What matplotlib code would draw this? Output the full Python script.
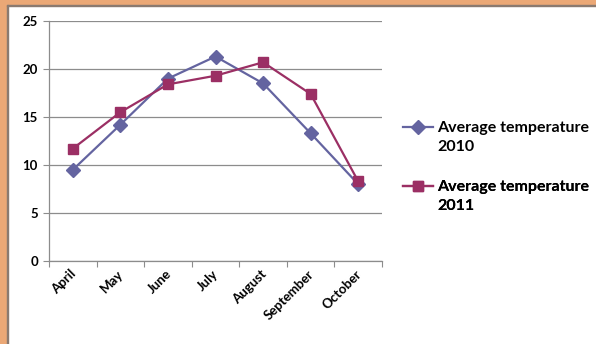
import matplotlib
matplotlib.use("Agg")
import matplotlib.pyplot as plt
from matplotlib.patches import Rectangle
from matplotlib.lines import Line2D
from matplotlib.transforms import offset_copy

months = ["April", "May", "June", "July", "August", "September", "October"]
temp_2010 = [9.5, 14.2, 19.0, 21.3, 18.5, 13.3, 8.0]
temp_2011 = [11.7, 15.5, 18.4, 19.3, 20.7, 17.4, 8.3]
y_ticks = [0, 5, 10, 15, 20, 25]
series_names = ["Average temperature", "Average temperature"]
series_years = ["2010", "2011"]

color_2010 = "#6464A0"
color_2011 = "#9B2F64"
grid_color = "#8C8C8C"

plt.rcParams["font.family"] = ["Lato", "DejaVu Sans"]
plt.rcParams["font.weight"] = "bold"

fig = plt.figure(figsize=(5.96, 3.44), dpi=100)
fig.patch.set_facecolor("white")

# orange frame around the slide panel
W, H = 596, 344
frame = "#EBA876"
fig.add_artist(Rectangle((0, 0), 6.5 / W, 1, transform=fig.transFigure, color=frame, zorder=0))
fig.add_artist(Rectangle((0, 1 - 5 / H), 1, 5 / H, transform=fig.transFigure, color=frame, zorder=0))
fig.add_artist(Rectangle((6.5 / W, 0), 1.3 / W, 1 - 5 / H, transform=fig.transFigure, color="#8A7A70", zorder=1))
fig.add_artist(Rectangle((6.5 / W, 1 - 6.3 / H), 1, 1.3 / H, transform=fig.transFigure, color="#8A7A70", zorder=1))

ax = fig.add_axes([49 / W, 1 - 261 / H, (382 - 49) / W, (261 - 21) / H])
x = list(range(len(months)))

l1, = ax.plot(x, temp_2010, color=color_2010, lw=1.6, marker="D", markersize=6.8, zorder=3)
l2, = ax.plot(x, temp_2011, color=color_2011, lw=1.6, marker="s", markersize=7.8, zorder=3)

ax.set_xlim(-0.5, len(months) - 0.5)
ax.set_ylim(0, 25)
ax.set_yticks(y_ticks)
ax.set_yticklabels([str(v) for v in y_ticks], fontsize=9.5, fontweight="bold")
ax.yaxis.grid(True, color=grid_color, lw=0.9)
ax.set_axisbelow(True)

ax.set_xticks([i - 0.5 for i in range(len(months) + 1)])
ax.set_xticklabels([])
ax.set_xticks(x, minor=True)
ax.set_xticklabels(months, minor=True, rotation=45, ha="right", va="top",
                   rotation_mode="anchor", fontsize=9.5, fontweight="bold")
ax.tick_params(axis="x", which="minor", length=0, pad=5)
ax.tick_params(axis="x", which="major", length=4, color=grid_color, direction="out")
ax.tick_params(axis="y", length=4, color=grid_color, direction="out", pad=4)
for lbl in ax.get_xticklabels(minor=True):
    lbl.set_transform(offset_copy(lbl.get_transform(), fig=fig, x=-3, y=0, units="dots"))

for side in ("top", "right"):
    ax.spines[side].set_visible(False)
for side in ("left", "bottom"):
    ax.spines[side].set_color(grid_color)
    ax.spines[side].set_linewidth(0.9)

# legend: marker aligned with the first line of each two-line label
blank = Line2D([], [], lw=0, marker=None)
legend_y = [127, 186]
for handle, name, year, ly in zip([l1, l2], series_names, series_years, legend_y):
    leg = ax.legend([handle, blank], [name, year], loc="upper left",
                    bbox_to_anchor=(403 / W, 1 - (ly - 6) / H),
                    bbox_transform=fig.transFigure, frameon=False,
                    handlelength=1.9, handletextpad=0.25, labelspacing=0.3,
                    borderpad=0, borderaxespad=0,
                    prop={"weight": "bold", "size": 11.5})
    ax.add_artist(leg)

fig.savefig("out.png", dpi=100)
